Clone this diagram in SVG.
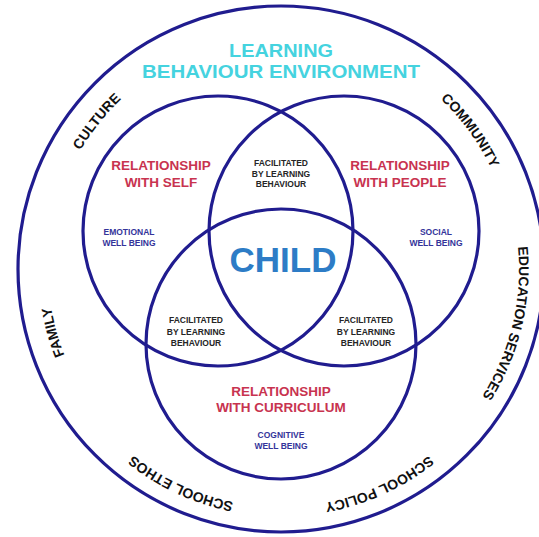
<svg xmlns="http://www.w3.org/2000/svg" width="539" height="537" viewBox="0 0 539 537">
  <style>
    .ring { fill: none; stroke: #201c8f; stroke-width: 3.2; }
    .title { font-family: "Liberation Sans", Arial, sans-serif; font-weight: bold; font-size: 18px; fill: #45d3df; text-anchor: middle; }
    .rel { font-family: "Liberation Sans", Arial, sans-serif; font-weight: bold; font-size: 13.5px; fill: #c8334f; text-anchor: middle; }
    .fac { font-family: "Liberation Sans", Arial, sans-serif; font-weight: bold; font-size: 8.5px; fill: #262626; text-anchor: middle; }
    .wb { font-family: "Liberation Sans", Arial, sans-serif; font-weight: bold; font-size: 8.5px; fill: #34349a; text-anchor: middle; }
    .child { font-family: "Liberation Sans", Arial, sans-serif; font-weight: bold; font-size: 35px; fill: #2d7cc6; text-anchor: middle; }
    .env { font-family: "Liberation Sans", Arial, sans-serif; font-weight: bold; font-size: 14px; fill: #111111; text-anchor: middle; }
  </style>
  <defs>
    <path id="arcA" d="M 281,36 A 233 233 0 1 1 281,502 A 233 233 0 1 1 281,36"/>
    <path id="arcB" d="M 281,31 A 238 238 0 1 1 281,507 A 238 238 0 1 1 281,31"/>
  </defs>
  <rect x="0" y="0" width="539" height="537" fill="#ffffff"/>

  <g id="environment">
    <circle class="ring" cx="281" cy="269" r="263"/>
    <text class="title" x="281" y="57" textLength="104" lengthAdjust="spacingAndGlyphs">LEARNING</text>
    <text class="title" x="281" y="77.5" textLength="278" lengthAdjust="spacingAndGlyphs">BEHAVIOUR ENVIRONMENT</text>
    <text class="env"><textPath href="#arcA" startOffset="85.75%">CULTURE</textPath></text>
    <text class="env"><textPath href="#arcA" startOffset="14.94%">COMMUNITY</textPath></text>
    <text class="env"><textPath href="#arcB" startOffset="28.75%">EDUCATION SERVICES</textPath></text>
    <text class="env"><textPath href="#arcB" startOffset="43.19%">SCHOOL POLICY</textPath></text>
    <text class="env"><textPath href="#arcB" startOffset="56.94%">SCHOOL ETHOS</textPath></text>
    <text class="env"><textPath href="#arcA" startOffset="70.67%">FAMILY</textPath></text>
  </g>

  <g id="connectors">
    <circle id="circle-self" class="ring" cx="218" cy="231" r="135"/>
    <circle id="circle-people" class="ring" cx="344" cy="231" r="135"/>
    <circle id="circle-curriculum" class="ring" cx="281" cy="344" r="135"/>
  </g>

  <g id="self">
    <text class="rel" x="161" y="170">RELATIONSHIP</text>
    <text class="rel" x="161" y="187">WITH SELF</text>
    <text class="wb" x="129" y="235">EMOTIONAL</text>
    <text class="wb" x="129" y="245.5">WELL BEING</text>
  </g>

  <g id="people">
    <text class="rel" x="400" y="170">RELATIONSHIP</text>
    <text class="rel" x="400" y="187">WITH PEOPLE</text>
    <text class="wb" x="436" y="235">SOCIAL</text>
    <text class="wb" x="436" y="245.5">WELL BEING</text>
  </g>

  <g id="curriculum">
    <text class="rel" x="281" y="396">RELATIONSHIP</text>
    <text class="rel" x="281" y="412">WITH CURRICULUM</text>
    <text class="wb" x="281" y="438">COGNITIVE</text>
    <text class="wb" x="281" y="449">WELL BEING</text>
  </g>

  <g id="facilitated-top">
    <text class="fac" x="281" y="166">FACILITATED</text>
    <text class="fac" x="281" y="176.5">BY LEARNING</text>
    <text class="fac" x="281" y="187">BEHAVIOUR</text>
  </g>

  <g id="facilitated-left">
    <text class="fac" x="196" y="323">FACILITATED</text>
    <text class="fac" x="196" y="334.5">BY LEARNING</text>
    <text class="fac" x="196" y="346">BEHAVIOUR</text>
  </g>

  <g id="facilitated-right">
    <text class="fac" x="366" y="323">FACILITATED</text>
    <text class="fac" x="366" y="334.5">BY LEARNING</text>
    <text class="fac" x="366" y="346">BEHAVIOUR</text>
  </g>

  <g id="child">
    <text class="child" x="283" y="272">CHILD</text>
  </g>
</svg>
